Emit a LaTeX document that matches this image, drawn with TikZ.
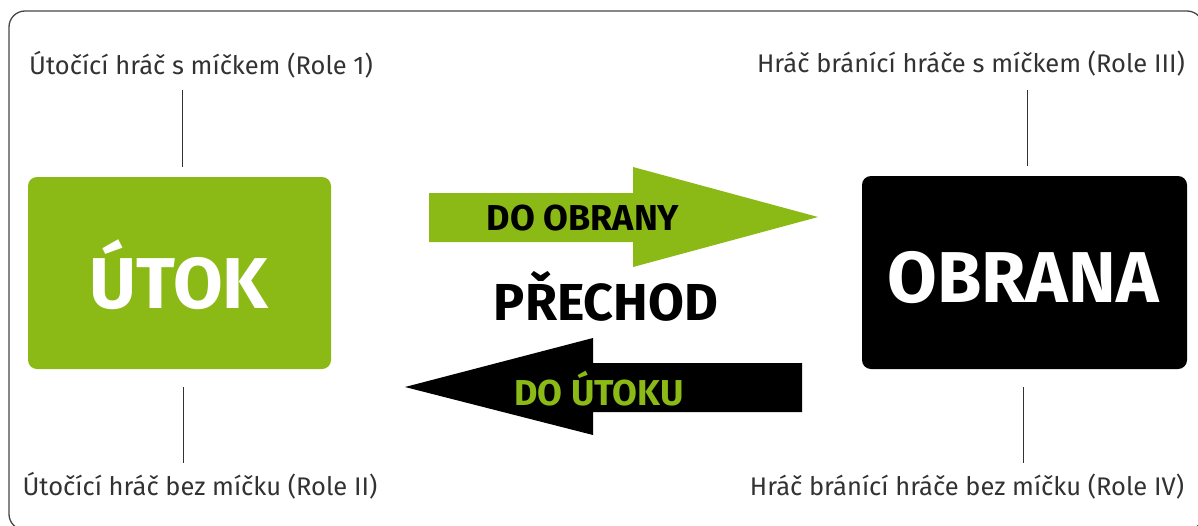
\documentclass[tikz,border=0pt]{standalone}
\usepackage{fontspec}
\setmainfont{Fira Sans}
\definecolor{kgreen}{RGB}{139,186,22}
\definecolor{ktext}{RGB}{50,50,50}
\definecolor{kframe}{RGB}{70,70,70}
\tikzset{
  rolebox/.style={rounded corners=9pt, inner sep=0pt},
  roletitle/.style={anchor=base, inner sep=0pt, text=white, font=\bfseries\fontsize{72}{72}\selectfont},
  rolelabel/.style={anchor=base, inner sep=0pt, text=ktext, font=\fontsize{25.5}{25.5}\selectfont},
  tick/.style={draw=ktext, line width=0.9pt},
  arrowtext/.style={anchor=base, inner sep=0pt, font=\bfseries\fontsize{36}{36}\selectfont},
}
\begin{document}
\begin{tikzpicture}[x=1pt, y=-1pt]
\useasboundingbox (0,0) rectangle (1198,525);

% outer frame
\begin{scope}
  \clip (0,0) rectangle (1198,525);
  \draw[kframe, line width=1.3pt, rounded corners=16pt] (9,11) rectangle (1203,530);
\end{scope}

% the two phases
\node[rolebox, fill=kgreen, minimum width=303pt, minimum height=192pt] (utok) at (179.5,273) {};
\node[roletitle] (utoktext) at (179,308) {ÚTOK};
\node[rolebox, fill=black, minimum width=325pt, minimum height=193pt] (obrana) at (1024.5,272.5) {};
\node[roletitle] (obranatext) at (1023,302) {OBRANA};

% role labels
\node[rolelabel] (r1) at (201,74) {Útočící hráč s míčkem (Role 1)};
\node[rolelabel] (r2) at (200,495) {Útočící hráč bez míčku (Role II)};
\node[rolelabel] (r3) at (971,72) {Hráč bránící hráče s míčkem (Role III)};
\node[rolelabel] (r4) at (967,495) {Hráč bránící hráče bez míčku (Role IV)};

% ticks joining labels and boxes
\coordinate (t1a) at (182,90);  \coordinate (t1b) at (182,167);
\coordinate (t2a) at (183,387); \coordinate (t2b) at (183,463);
\coordinate (t3a) at (1027,90); \coordinate (t3b) at (1027,166);
\coordinate (t4a) at (1023,387);\coordinate (t4b) at (1023,463);
\draw[tick] (t1a) -- (t1b);
\draw[tick] (t2a) -- (t2b);
\draw[tick] (t3a) -- (t3b);
\draw[tick] (t4a) -- (t4b);

% transition arrows
\fill[kgreen] (429,193) -- (633,193) -- (633,167) -- (818,217) -- (633,267) -- (633,242) -- (429,242) -- cycle;
\fill[black] (802,363) -- (593,363) -- (593,338) -- (405,387) -- (593,435) -- (593,412) -- (802,412) -- cycle;

\node[arrowtext, text=black] (doobrany) at (583,230) {DO OBRANY};
\node[arrowtext, text=kgreen] (doutoku) at (599,405) {DO ÚTOKU};
\node[anchor=base, inner sep=0pt, font=\bfseries\fontsize{52}{52}\selectfont] (prechod) at (606,320) {PŘECHOD};
\end{tikzpicture}
\end{document}
